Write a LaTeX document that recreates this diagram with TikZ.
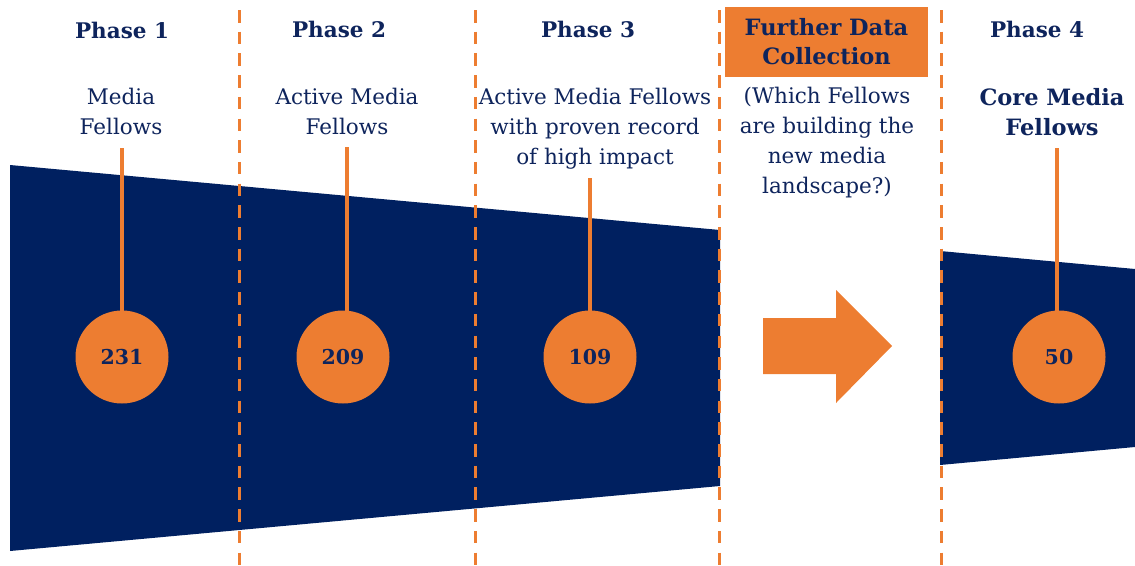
\documentclass[tikz,border=0pt]{standalone}
\usepackage{fontspec}
\setmainfont{DejaVu Serif}
\definecolor{navy}{RGB}{0,32,96}
\definecolor{orng}{RGB}{237,125,49}
\definecolor{txt}{RGB}{14,36,92}
\pgfdeclarelayer{back}
\pgfdeclarelayer{mid}
\pgfsetlayers{back,mid,main}
\tikzset{
  head/.style={font=\fontsize{21.5}{26}\selectfont\bfseries, text=txt, inner sep=0pt},
  sub/.style={font=\fontsize{21.5}{30}\selectfont, text=txt, align=center, inner sep=0pt, anchor=north},
  subb/.style={font=\fontsize{22.5}{30}\selectfont\bfseries, text=txt, align=center, inner sep=0pt, anchor=north},
  circ/.style={circle, fill=orng, minimum size=93pt, inner sep=0pt, font=\fontsize{20.5}{22}\selectfont\bfseries, text=txt},
  stem/.style={draw=orng, line width=3.5pt},
  divider/.style={draw=orng, line width=3pt, dash pattern=on 12.5pt off 9.2pt},
  funnel/.style={fill=navy},
  boxed/.style={fill=orng, minimum width=203pt, minimum height=70pt, inner sep=0pt, align=center,
    font=\fontsize{22.5}{29}\selectfont\bfseries, text=txt}
}
\begin{document}
\begin{tikzpicture}[x=1pt,y=-1pt]
\useasboundingbox (0,0) rectangle (1135,565);
\begin{pgfonlayer}{back}
\fill[funnel] (10,165) -- (720,230) -- (720,486) -- (10,551) -- cycle;
\fill[funnel] (940,251) -- (1135,269) -- (1135,447) -- (940,465) -- cycle;
\fill[orng] (763,318) -- (836,318) -- (836,290) -- (892,346) -- (836,403) -- (836,374) -- (763,374) -- cycle;
\end{pgfonlayer}
% dividers
\coordinate (d1a) at (239,10); \coordinate (d1b) at (239,565);
\coordinate (d2a) at (475,10); \coordinate (d2b) at (475,565);
\coordinate (d3a) at (719,10); \coordinate (d3b) at (719,565);
\coordinate (d4a) at (941,10); \coordinate (d4b) at (941,565);
\draw[divider] (d1a) -- (d1b);
\draw[divider] (d2a) -- (d2b);
\draw[divider] (d3a) -- (d3b);
\draw[divider] (d4a) -- (d4b);
% headings
\node[head] (h1) at (122,30) {Phase 1};
\node[head] (h2) at (339,29) {Phase 2};
\node[head] (h3) at (588,29) {Phase 3};
\node[head] (h4) at (1037,29) {Phase 4};
\node[boxed] (fdc) at (826.5,42) {Further Data\\Collection};
% subtitles
\node[sub] (s1) at (121,88) {Media\\Fellows};
\node[sub] (s2) at (347,88) {Active Media\\Fellows};
\node[sub] (s3) at (595,88) {Active Media Fellows\\with proven record\\of high impact};
\node[sub] (s5) at (827,87) {(Which Fellows\\are building the\\new media\\landscape?)};
\node[subb] (s4) at (1052,88) {Core Media\\Fellows};
% circles
\node[circ] (c1) at (122,357) {231};
\node[circ] (c2) at (343,357) {209};
\node[circ] (c3) at (590,357) {109};
\node[circ] (c4) at (1059,357) {50};
% stems
\coordinate (t1) at (122,148);
\coordinate (t2) at (347,147);
\coordinate (t3) at (590,178);
\coordinate (t4) at (1057,148);
\begin{pgfonlayer}{mid}
\draw[stem] (t1) -- (t1 |- c1.center);
\draw[stem] (t2) -- (t2 |- c2.center);
\draw[stem] (t3) -- (t3 |- c3.center);
\draw[stem] (t4) -- (t4 |- c4.center);
\end{pgfonlayer}
\end{tikzpicture}
\end{document}
